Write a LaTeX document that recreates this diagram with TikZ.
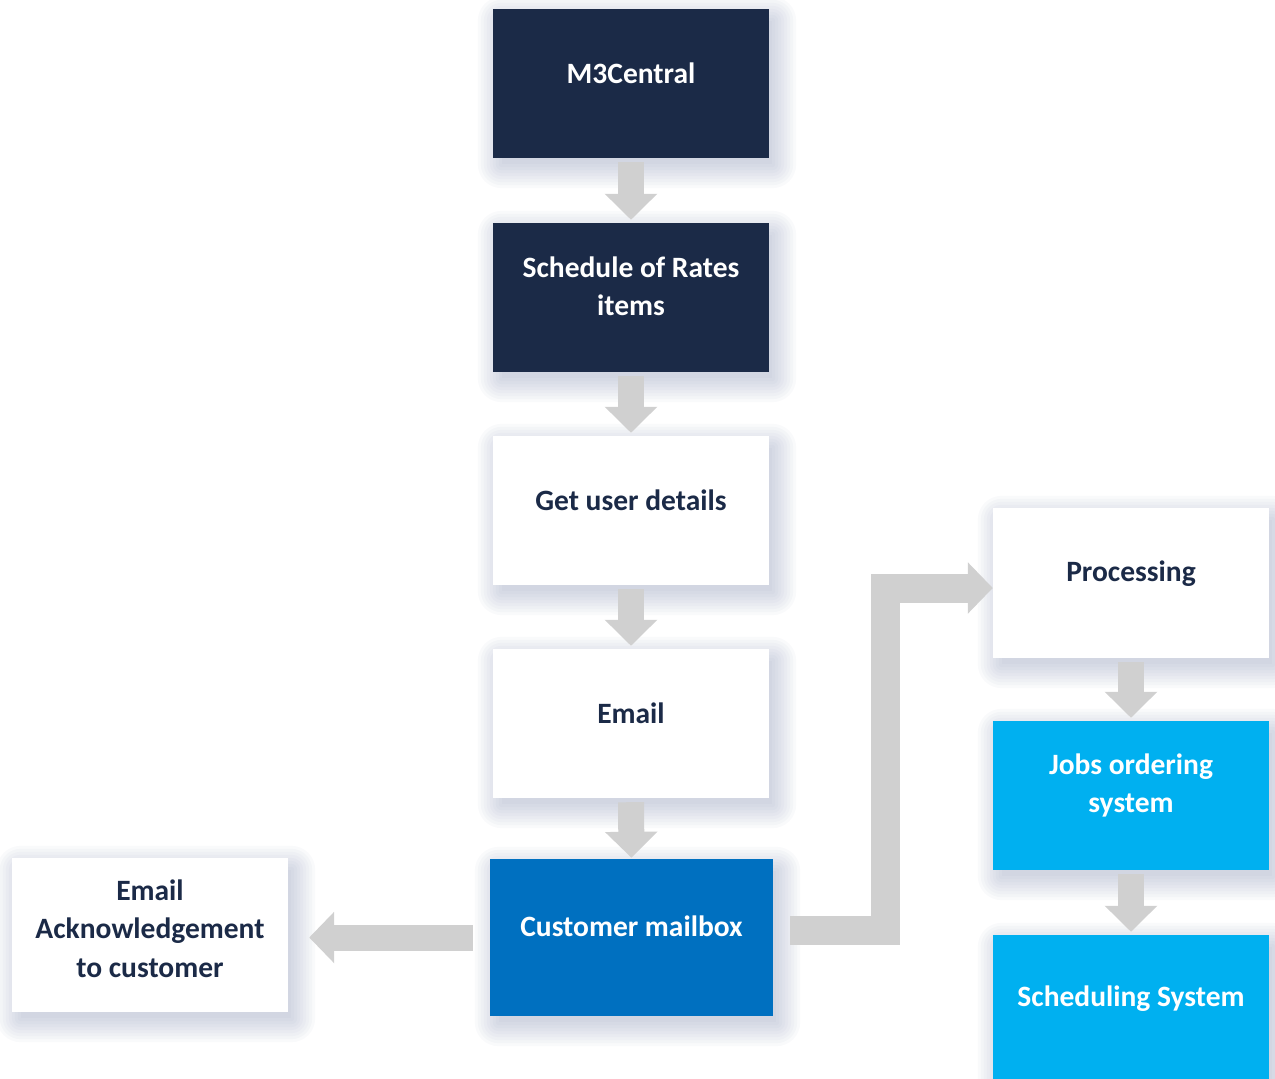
\documentclass[tikz,border=0pt]{standalone}
\usepackage{fontspec}
\setmainfont{Carlito}
\usetikzlibrary{arrows.meta}
\definecolor{navy}{HTML}{1B2A47}
\definecolor{mailblue}{HTML}{0070C0}
\definecolor{cyanbox}{HTML}{00B0F0}
\definecolor{arrowgray}{HTML}{D0D0D0}
\definecolor{shadowc}{RGB}{130,140,180}
\pgfdeclarelayer{bg}
\pgfsetlayers{bg,main}
\tikzset{
  box/.style={rectangle, inner sep=0pt, minimum width=276pt, minimum height=149pt},
  navybox/.style={box, fill=navy},
  whitebox/.style={box, fill=white},
  mailbox/.style={box, fill=mailblue, minimum width=283pt, minimum height=157pt},
  cyanb/.style={box, fill=cyanbox},
  txt/.style={font=\bfseries\fontsize{29.5}{38.5}\selectfont, align=center, inner sep=0pt},
  darktxt/.style={txt, text=navy},
  lighttxt/.style={txt, text=white},
  blockarrow/.style={draw=arrowgray, line width=26pt, line cap=butt, line join=miter,
    -{Triangle[width=51pt,length=26pt]}},
}
\newcommand{\boxshadow}[1]{%
  \foreach \r in {-3,0,...,21}{%
    \fill[shadowc, opacity=0.045, rounded corners=\r pt+3pt]
      ([xshift=6pt-\r pt, yshift=-9pt+\r pt]#1.north west) rectangle
      ([xshift=6pt+\r pt, yshift=-9pt-\r pt]#1.south east);
  }%
}
\begin{document}
\begin{tikzpicture}[x=1pt, y=-1pt]
\useasboundingbox (0,0) rectangle (1275,1079);

% boxes
\node[navybox] (m3) at (631,83.5) {};
\node[navybox] (sor) at (631,297.5) {};
\node[whitebox] (gud) at (631,510.5) {};
\node[whitebox] (email) at (631,723.5) {};
\node[mailbox] (mail) at (631.5,937.5) {};
\node[whitebox, minimum height=154pt] (ack) at (150,935) {};
\node[whitebox, minimum height=150pt] (proc) at (1131,583) {};
\node[cyanb] (jobs) at (1131,795.5) {};
\node[cyanb] (sched) at (1131,1009.5) {};

% background and shadows
\begin{pgfonlayer}{bg}
\fill[white] (0,0) rectangle (1275,1079);
\boxshadow{m3}
\boxshadow{sor}
\boxshadow{gud}
\boxshadow{email}
\boxshadow{mail}
\boxshadow{ack}
\boxshadow{proc}
\boxshadow{jobs}
\boxshadow{sched}
\end{pgfonlayer}

% texts
\node[lighttxt] (m3t) at ([yshift=10pt]m3.center) {M3Central};
\node[lighttxt] (sort) at ([yshift=11pt]sor.center) {Schedule of Rates\\items};
\node[darktxt] (gudt) at ([yshift=10pt]gud.center) {Get user details};
\node[darktxt] (emailt) at ([yshift=10pt]email.center) {Email};
\node[lighttxt] (mailt) at ([yshift=11pt]mail.center) {Customer mailbox};
\node[darktxt] (ackt) at ([yshift=6.5pt]ack.center) {Email\\Acknowledgement\\to customer};
\node[darktxt] (proct) at ([yshift=9pt]proc.center) {Processing};
\node[lighttxt] (jobst) at ([yshift=10pt]jobs.center) {Jobs ordering\\system};
\node[lighttxt] (schedt) at ([yshift=11pt]sched.center) {Scheduling System};

% arrows
\draw[blockarrow] ([yshift=-4pt]m3.south) -- ([yshift=3pt]sor.north);
\draw[blockarrow] ([yshift=-4pt]sor.south) -- ([yshift=3pt]gud.north);
\draw[blockarrow] ([yshift=-4pt]gud.south) -- ([yshift=3pt]email.north);
\draw[blockarrow] ([yshift=-4pt]email.south) -- ([yshift=1pt]mail.north);
\draw[blockarrow] ([yshift=-4pt]proc.south) -- ([yshift=3pt]jobs.north);
\draw[blockarrow] ([yshift=-4pt]jobs.south) -- ([yshift=3pt]sched.north);
\draw[blockarrow, -{Triangle[width=50pt,length=25pt]}] ([xshift=-17pt]mail.west) -- ([xshift=21pt]ack.east |- mail.west);
\coordinate (bendA) at (885.5,930.5);
\coordinate (bendB) at (885.5,588);
\draw[blockarrow, line width=29pt, -{Triangle[width=50pt,length=25pt]}]
  ([xshift=17pt]mail.east |- bendA) -- (bendA) -- (bendB) -- (proc.west |- bendB);
\end{tikzpicture}
\end{document}
